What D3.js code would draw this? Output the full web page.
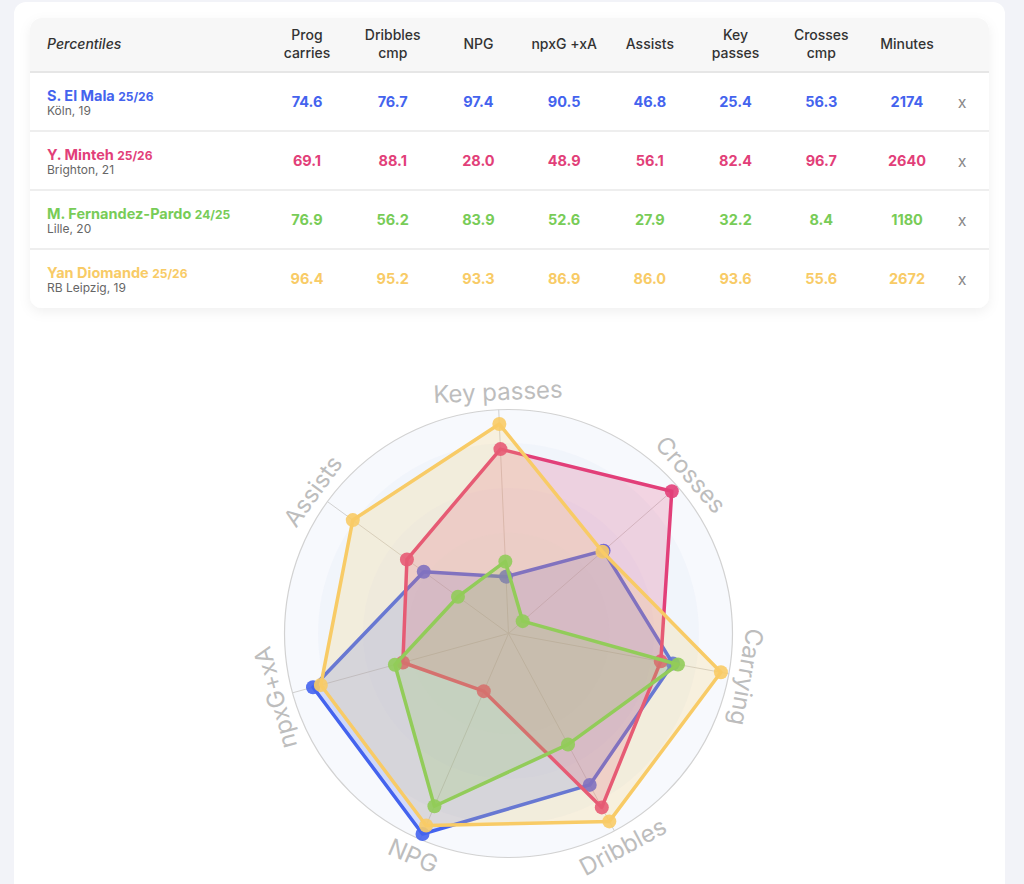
<!DOCTYPE html>
<html>
<head>
<meta charset="utf-8">
<script src="https://cdn.jsdelivr.net/npm/d3@7"></script>
<style>
  html, body { margin: 0; padding: 0; background: #f2f3f8; }
  svg { display: block; font-family: Inter, "Noto Sans", sans-serif; }
</style>
</head>
<body>
<svg id="chart" width="1024" height="884"></svg>
<script>
// table columns
var columns = ["Prog carries", "Dribbles cmp", "NPG", "npxG +xA", "Assists", "Key passes", "Crosses cmp", "Minutes"];
var header_lines = [["Prog", "carries"], ["Dribbles", "cmp"], ["NPG"], ["npxG +xA"], ["Assists"], ["Key", "passes"], ["Crosses", "cmp"], ["Minutes"]];

// players
var names = ["S. El Mala", "Y. Minteh", "M. Fernandez-Pardo", "Yan Diomande"];
var seasons = ["25/26", "25/26", "24/25", "25/26"];
var clubs = ["Köln, 19", "Brighton, 21", "Lille, 20", "RB Leipzig, 19"];
var colors = ["#4463ee", "#e23f79", "#78cc57", "#f8cb66"];

// one array per column, in player order
var prog_carries = [74.6, 69.1, 76.9, 96.4];
var dribbles_cmp = [76.7, 88.1, 56.2, 95.2];
var npg = [97.4, 28.0, 83.9, 93.3];
var npxg_xa = [90.5, 48.9, 52.6, 86.9];
var assists = [46.8, 56.1, 27.9, 86.0];
var key_passes = [25.4, 82.4, 32.2, 93.6];
var crosses_cmp = [56.3, 96.7, 8.4, 55.6];
var minutes = [2174, 2640, 1180, 2672];

var table_cols = [prog_carries, dribbles_cmp, npg, npxg_xa, assists, key_passes, crosses_cmp, minutes];

// radar axes, clockwise from top
var radar_labels = ["Key passes", "Crosses", "Carrying", "Dribbles", "NPG", "npxG+xA", "Assists"];
var radar_cols = [key_passes, crosses_cmp, prog_carries, dribbles_cmp, npg, npxg_xa, assists];

var svg = d3.select("#chart");
var defs = svg.append("defs");

var shadow = defs.append("filter").attr("id", "shadow")
    .attr("x", "-5%").attr("y", "-10%").attr("width", "110%").attr("height", "130%");
shadow.append("feDropShadow")
    .attr("dx", 0).attr("dy", 4).attr("stdDeviation", 6)
    .attr("flood-color", "#000").attr("flood-opacity", 0.06);

// page panel
svg.append("rect")
    .attr("x", 14).attr("y", 2).attr("width", 991).attr("height", 920)
    .attr("rx", 12).attr("fill", "#ffffff");

// table card
var card = { x: 30, y: 18, w: 959, h: 290, head: 54, row: 59 };

defs.append("clipPath").attr("id", "cardclip")
    .append("rect")
    .attr("x", card.x).attr("y", card.y).attr("width", card.w).attr("height", card.h).attr("rx", 12);

svg.append("rect")
    .attr("x", card.x).attr("y", card.y).attr("width", card.w).attr("height", card.h)
    .attr("rx", 12).attr("fill", "#fff").attr("filter", "url(#shadow)");

var table = svg.append("g").attr("clip-path", "url(#cardclip)");

table.append("rect")
    .attr("x", card.x).attr("y", card.y).attr("width", card.w).attr("height", card.head)
    .attr("fill", "#f7f7f7");

var colX = d3.scalePoint().domain(columns).range([307, 907]);
var rowY = d3.scaleBand().domain(names).range([card.y + card.head, card.y + card.head + card.row * names.length]);

// separators
table.append("line")
    .attr("x1", card.x).attr("x2", card.x + card.w)
    .attr("y1", card.y + card.head).attr("y2", card.y + card.head)
    .attr("stroke", "#e6e6e6").attr("stroke-width", 2);

table.selectAll(".sep")
    .data(names.slice(1))
    .join("line")
    .attr("class", "sep")
    .attr("x1", card.x).attr("x2", card.x + card.w)
    .attr("y1", function(d) { return rowY(d); })
    .attr("y2", function(d) { return rowY(d); })
    .attr("stroke", "#e8e8e8").attr("stroke-width", 1.5);

// header
table.append("text")
    .attr("x", 47).attr("y", card.y + 31)
    .attr("font-size", "14px").attr("font-style", "italic").attr("font-weight", 500)
    .attr("fill", "#333")
    .text("Percentiles");

columns.forEach(function(c, i) {
    var lines = header_lines[i];
    var t = table.append("text")
        .attr("x", colX(c))
        .attr("text-anchor", "middle")
        .attr("font-size", "14px").attr("font-weight", 500)
        .attr("fill", "#333");
    if (lines.length == 1) {
        t.append("tspan").attr("x", colX(c)).attr("y", card.y + 31).text(lines[0]);
    } else {
        t.append("tspan").attr("x", colX(c)).attr("y", card.y + 22).text(lines[0]);
        t.append("tspan").attr("x", colX(c)).attr("y", card.y + 40).text(lines[1]);
    }
});

// rows
names.forEach(function(n, p) {
    var top = rowY(n);
    var nm = table.append("text")
        .attr("x", 47).attr("y", top + 29)
        .attr("font-weight", 700).attr("fill", colors[p]);
    nm.append("tspan").attr("font-size", "14.5px").text(n + " ");
    nm.append("tspan").attr("font-size", "12px").text(seasons[p]);

    table.append("text")
        .attr("x", 47).attr("y", top + 43)
        .attr("font-size", "12px").attr("fill", "#666")
        .text(clubs[p]);

    table_cols.forEach(function(col, i) {
        var v = col[p];
        table.append("text")
            .attr("x", colX(columns[i])).attr("y", top + 35)
            .attr("text-anchor", "middle")
            .attr("font-size", "14.5px").attr("font-weight", 700)
            .attr("fill", colors[p])
            .text(i == 7 ? d3.format("d")(v) : d3.format(".1f")(v));
    });

    table.append("text")
        .attr("x", 962).attr("y", top + 36)
        .attr("text-anchor", "middle")
        .attr("font-size", "16px").attr("fill", "#888")
        .text("x");
});

// radar
var cx = 508.5, cy = 633.5, R = 224;
var offset = -2.5;
var r = d3.scaleLinear().domain([0, 100]).range([0, R]);
var angle = d3.scaleLinear().domain([0, radar_labels.length]).range([offset, offset + 360]);

var radar = svg.append("g").attr("transform", "translate(" + cx + "," + cy + ")");

radar.append("circle").attr("r", r(100)).attr("fill", "#f7f9fd");
[85, 65, 45].forEach(function(v) {
    radar.append("circle").attr("r", r(v)).attr("fill", "#e4ebf7").attr("fill-opacity", 0.3);
});
radar.append("circle").attr("r", r(100))
    .attr("fill", "none").attr("stroke", "#d2d2d2").attr("stroke-width", 1.2);

function pt(i, v) {
    var a = angle(i) * Math.PI / 180;
    return [r(v) * Math.sin(a), -r(v) * Math.cos(a)];
}

radar.selectAll(".axis")
    .data(radar_labels)
    .join("line")
    .attr("class", "axis")
    .attr("x1", 0).attr("y1", 0)
    .attr("x2", function(d, i) { return pt(i, 100)[0]; })
    .attr("y2", function(d, i) { return pt(i, 100)[1]; })
    .attr("stroke", "#d0d0d0").attr("stroke-width", 1);

var line = d3.line().curve(d3.curveLinearClosed);

names.forEach(function(n, p) {
    var pts = radar_cols.map(function(col, i) { return pt(i, col[p]); });
    var g = radar.append("g");
    g.append("path")
        .attr("d", line(pts))
        .attr("fill", colors[p]).attr("fill-opacity", 0.2)
        .attr("stroke", colors[p]).attr("stroke-width", 3.5)
        .attr("stroke-linejoin", "round");
    g.selectAll("circle")
        .data(pts)
        .join("circle")
        .attr("cx", function(d) { return d[0]; })
        .attr("cy", function(d) { return d[1]; })
        .attr("r", 7)
        .attr("fill", colors[p]).attr("fill-opacity", 0.9);
});

// axis labels, rotated along the ring
radar.selectAll(".lbl")
    .data(radar_labels)
    .join("text")
    .attr("class", "lbl")
    .attr("transform", function(d, i) {
        var a = angle(i);
        var p = pt(i, 108);
        var rot = a;
        if (Math.cos(a * Math.PI / 180) < -0.5) rot = a - 180;
        return "translate(" + p[0] + "," + p[1] + ") rotate(" + rot + ")";
    })
    .attr("text-anchor", "middle")
    .attr("dominant-baseline", "central")
    .attr("font-size", "24px")
    .attr("fill", "#bdbdbd")
    .text(function(d) { return d; });
</script>
</body>
</html>
